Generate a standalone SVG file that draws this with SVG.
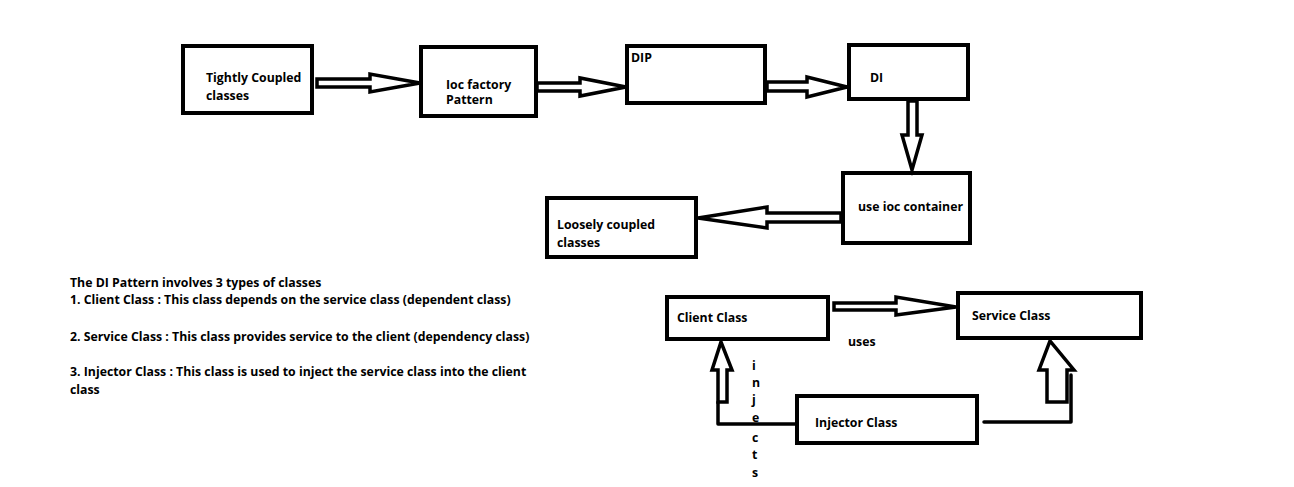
<svg xmlns="http://www.w3.org/2000/svg" width="1294" height="487" viewBox="0 0 1294 487">
<style>
.box{fill:#fff;stroke:#000;stroke-width:4}
.arr{fill:#fff;stroke:#000;stroke-width:3.5;stroke-linejoin:miter}
.ln{fill:none;stroke:#000;stroke-width:3.5;stroke-linejoin:round;stroke-linecap:round}
text{font-family:"Open Sans","Liberation Sans",sans-serif;font-weight:700;font-size:12.3px;fill:#000}
</style>
<rect width="1294" height="487" fill="#fff"/>
<g id="n-tight"><rect class="box" x="183" y="46" width="129" height="67"/><text x="206" y="82">Tightly Coupled</text><text x="206" y="100">classes</text></g>
<g id="n-iocfactory"><rect class="box" x="421" y="47" width="115" height="69"/><text x="446" y="89">Ioc factory</text><text x="446" y="104">Pattern</text></g>
<g id="n-dip"><rect class="box" x="627" y="46" width="138" height="57"/><text x="631" y="62">DIP</text></g>
<g id="n-di"><rect class="box" x="849" y="45" width="119" height="54"/><text x="870" y="82">DI</text></g>
<g id="n-container"><rect class="box" x="843" y="173" width="127" height="70"/><text x="858" y="211">use ioc container</text></g>
<g id="n-loose"><rect class="box" x="547" y="198" width="149" height="59"/><text x="557" y="229">Loosely coupled</text><text x="557" y="247">classes</text></g>
<g id="n-client"><rect class="box" x="667" y="297" width="161" height="42"/><text x="677" y="322">Client Class</text></g>
<g id="n-service"><rect class="box" x="958" y="293" width="183" height="45"/><text x="972" y="320">Service Class</text></g>
<g id="n-injector"><rect class="box" x="797" y="396" width="180" height="47"/><text x="815" y="427">Injector Class</text></g>
<g id="connectors">
<polygon class="arr" points="317,79 370,79 370,74 420,83 370,92 370,87 317,87"/>
<polygon class="arr" points="537,83 580,83 580,78 626,87 580,96 580,91 537,91"/>
<polygon class="arr" points="767,82 807,82 807,77 847,87 807,97 807,91 767,91"/>
<polygon class="arr" points="908,101 908,135 902,135 912,170 922,135 917,135 917,101"/>
<polygon class="arr" points="841,213 767,213 767,207 698,218 767,228 767,222 841,222"/>
<polygon class="arr" points="834,303 896,303 896,297 956,307 896,315 896,310 834,310"/>
<polygon class="arr" points="718,402 718,370 712,370 721,342 732,370 727,370 727,402"/>
<polyline class="ln" points="718,402 718,424 795,424"/>
<polygon class="arr" points="1047,402 1047,370 1039,370 1050,341 1074,370 1067,370 1067,402"/>
<polyline class="ln" points="984,422 1071,422 1071,375"/>
<text x="848" y="346">uses</text>
<text x="752" y="370">i</text>
<text x="752" y="387">n</text>
<text x="752" y="404">j</text>
<text x="752" y="422">e</text>
<text x="752" y="442">c</text>
<text x="752" y="459">t</text>
<text x="752" y="477">s</text>
</g>
<g id="legend">
<text x="70" y="287">The DI Pattern involves 3 types of classes</text>
<text x="70" y="304">1. Client Class : This class depends on the service class (dependent class)</text>
<text x="70" y="341">2. Service Class : This class provides service to the client (dependency class)</text>
<text x="70" y="376">3. Injector Class : This class is used to inject the service class into the client</text>
<text x="70" y="394">class</text>
</g>
</svg>
